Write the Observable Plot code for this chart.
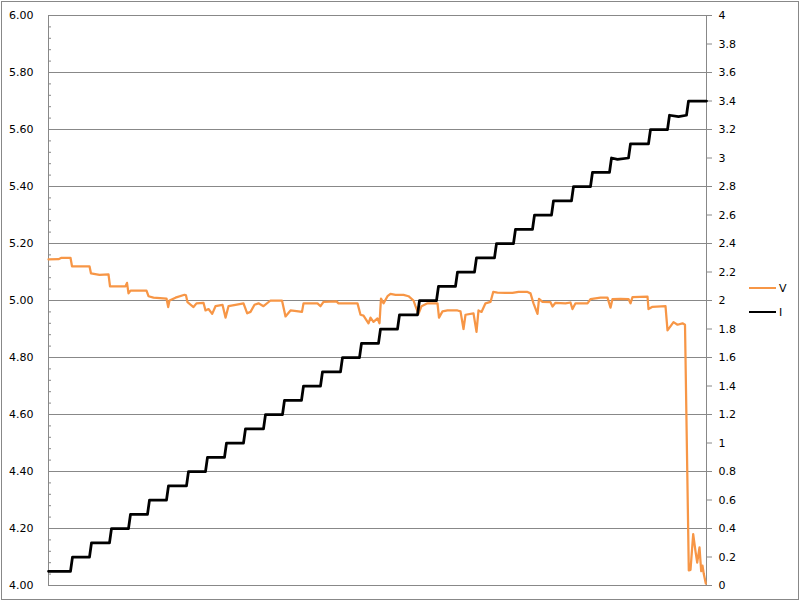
<!DOCTYPE html>
<html><head><meta charset="utf-8">
<script src="https://cdn.jsdelivr.net/npm/d3@7"></script>
<script src="https://cdn.jsdelivr.net/npm/@observablehq/plot@0.6"></script>
<style>
body{margin:0;background:#fff;}
#wrap{position:relative;width:800px;height:601px;overflow:hidden;}
#chart{position:absolute;left:0;top:0;}
#border{position:absolute;left:1px;top:1px;width:796px;height:597px;border:1px solid #888;pointer-events:none;}
.lg{position:absolute;left:749px;height:14px;font:11px "DejaVu Sans",sans-serif;color:#000;display:flex;align-items:center;}
.lg span.sw{display:inline-block;width:27px;margin-right:3px;}
</style></head>
<body><div id="wrap"><div id="chart"></div><div id="border"></div><div id="legend"></div></div>
<script>
// ---- data ----
const vTime = [0,10,13,22,23.5,41,42.5,51,60,61.5,77,78.5,80,82,98,100,105,118,119.7,121,127,136,137.5,139,145,148,155,157,160,163.7,167,174,177,180,187,195,198.7,202,206,210,215,222,233.5,237,242,248,253.5,255,262,269,272,275,288,290,309,312,315,320,322,325,329,331,332.5,335,339,342,347,355,360,365,367,370,373,379,389,390.5,394,399,409,412,415,417,425,428,430,433,437,442,444.7,449,457,464,470,479,482,485,489,490.5,494,502,504,507,517,522,524,527,539,542,552,559,562,564,572,580,582,584,599,600,604,617,619,625,629,634,636.5,640.3,642,644.7,647,648.7,651,652.7,654,655.3,657.3];
const vVolt = [5.144,5.145,5.15,5.15,5.12,5.12,5.095,5.09,5.092,5.05,5.05,5.062,5.025,5.035,5.035,5.015,5.01,5.007,4.977,5.0,5.01,5.02,5.018,4.994,4.977,4.99,4.992,4.965,4.97,4.953,4.98,4.985,4.94,4.98,4.985,4.99,4.955,4.96,4.985,4.99,4.98,5.0,5.0,4.944,4.965,4.963,4.96,4.99,4.99,4.99,4.98,4.995,4.997,4.99,4.99,4.95,4.947,4.92,4.94,4.925,4.937,4.92,5.007,4.99,5.015,5.023,5.02,5.02,5.015,5.0,4.98,4.953,4.98,4.99,4.99,4.94,4.962,4.965,4.965,4.962,4.90,4.95,4.955,4.89,4.965,4.96,4.99,4.995,5.03,5.028,5.027,5.027,5.03,5.03,5.025,4.99,4.953,5.006,4.995,4.994,4.979,4.992,4.99,4.993,4.97,4.99,4.99,5.005,5.01,5.01,4.975,5.005,5.006,5.005,4.99,5.012,5.014,4.97,4.978,4.98,4.895,4.924,4.915,4.92,4.915,4.053,4.055,4.18,4.12,4.08,4.134,4.05,4.07,4.04,4.007];

const iLevels = [0.1,0.2,0.3,0.4,0.5,0.6,0.7,0.8,0.9,1.0,1.1,1.2,1.3,1.4,1.5,1.6,1.7,1.8,1.9,2.0,2.1,2.2,2.3,2.4,2.5,2.6,2.7,2.8,2.9,3.0,3.1,3.2,3.3,3.4];
const iRiseTimes = [22,41,61,80,99,118,138,157,176,195,215,234,253,272,292,311,330,349,369,388,407,426,446,465,484,503,523,542,561,580,600,619,638];
const iRiseDuration = 2;
const timeEnd = 658;
const iGlitchTime = [569,630];
const iGlitchValue = [2.99,3.29];

const vTicks = [4.0,4.2,4.4,4.6,4.8,5.0,5.2,5.4,5.6,5.8,6.0];
const iTicks = [0,0.2,0.4,0.6,0.8,1,1.2,1.4,1.6,1.8,2,2.2,2.4,2.6,2.8,3,3.2,3.4,3.6,3.8,4];
const iTickLabels = ["0","0.2","0.4","0.6","0.8","1","1.2","1.4","1.6","1.8","2","2.2","2.4","2.6","2.8","3","3.2","3.4","3.6","3.8","4"];
const seriesNames = ["V","I"];
const seriesColors = ["#F79646","#000000"];

// ---- build tables ----
const vMin = 4, vMax = 6, iMin = 0, iMax = 4;
const vOf = i => vMin + (i - iMin) * (vMax - vMin) / (iMax - iMin);
const vData = vTime.map((t,k)=>({t, v:vVolt[k]}));
const iData = [];
iLevels.forEach((lev,k)=>{
  const start = k===0 ? 0 : iRiseTimes[k-1] + iRiseDuration;
  const end = k < iRiseTimes.length ? iRiseTimes[k] : timeEnd;
  iData.push({t:start,i:lev},{t:end,i:lev});
});
iGlitchTime.forEach((t,k)=>iData.push({t,i:iGlitchValue[k]}));
iData.sort((a,b)=>a.t-b.t);
const vMinor = d3.range(vMin, vMax + 1e-9, 0.04);
const rightTickPos = iTicks.map(vOf);

const chart = Plot.plot({
  width:800, height:601,
  marginLeft:48, marginRight:94, marginTop:15, marginBottom:16,
  x:{domain:[0,timeEnd], axis:null},
  y:{domain:[vMin,vMax], axis:null},
  style:{fontFamily:"'DejaVu Sans', sans-serif", fontSize:"11px", color:"#000", background:"#fff", overflow:"visible"},
  marks:[
    Plot.gridY(vTicks,{stroke:"#888", strokeOpacity:1}),
    Plot.frame({stroke:"#888"}),
    Plot.axisY(vMinor,{anchor:"left", tickSize:3, dx:3, stroke:"#888", fill:"none", label:null}),
    Plot.axisY(vTicks,{anchor:"left", tickSize:0, tickPadding:15, tickFormat:d3.format(".2f"), fill:"#000", label:null}),
    Plot.axisY(rightTickPos,{anchor:"right", tickSize:5, tickPadding:7, stroke:"#888", fill:"#000",
      tickFormat:d => iTickLabels[rightTickPos.findIndex(p=>Math.abs(p-d)<1e-9)], label:null}),
    Plot.line(vData,{x:"t", y:"v", stroke:seriesColors[0], strokeWidth:2.25}),
    Plot.line(iData,{x:"t", y:d=>vOf(d.i), stroke:seriesColors[1], strokeWidth:2.75})
  ]
});
document.getElementById("chart").appendChild(chart);

const legend = document.getElementById("legend");
const legendTops = [281, 305];
seriesNames.forEach((name,k)=>{
  const row = document.createElement("div");
  row.className = "lg";
  row.style.top = legendTops[k] + "px";
  const sw = document.createElement("span");
  sw.className = "sw";
  sw.style.borderTop = (k===0 ? "2.25px" : "2.75px") + " solid " + seriesColors[k];
  row.appendChild(sw);
  const tx = document.createElement("span");
  tx.textContent = name;
  row.appendChild(tx);
  legend.appendChild(row);
});
</script>
</body></html>
